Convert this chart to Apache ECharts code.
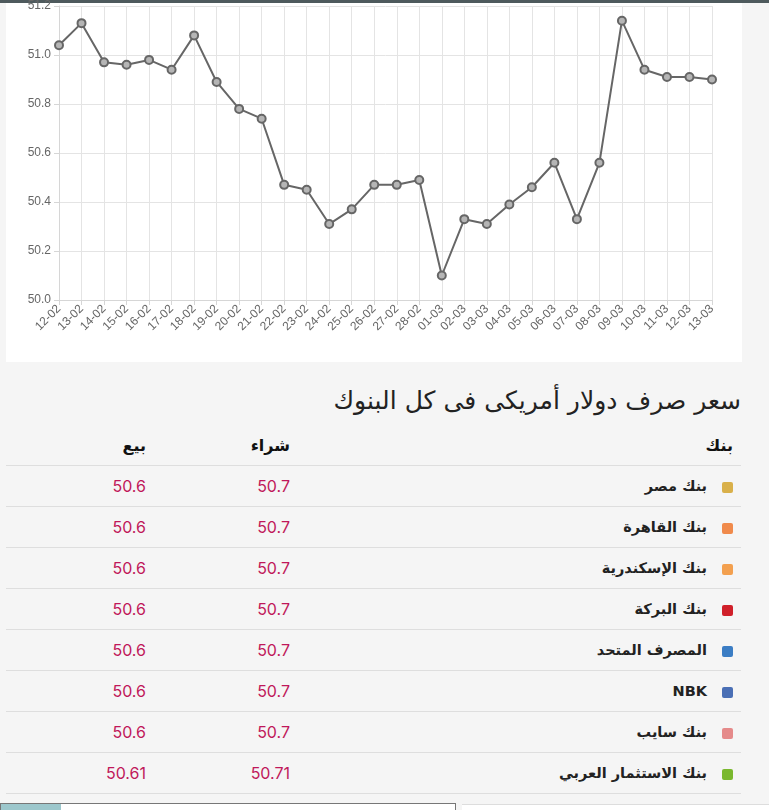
<!DOCTYPE html>
<html>
<head>
<meta charset="utf-8">
<script src="https://cdn.jsdelivr.net/npm/echarts@6/dist/echarts.min.js"></script>
<style>
html,body{margin:0;padding:0;background:#f5f5f5;width:769px;height:810px;overflow:hidden;font-family:"Inter","Noto Sans","DejaVu Sans",sans-serif;}
#topbar{position:absolute;left:0;top:0;width:769px;height:3px;background:#4e5a5d;}
#panel{position:absolute;left:6px;top:3px;width:736px;height:359px;background:#fff;}
#chart{position:absolute;left:6px;top:0;width:736px;height:362px;}
#title{position:absolute;right:28px;top:386px;font-size:25px;font-weight:500;color:#222;direction:rtl;font-family:"DejaVu Sans",sans-serif;letter-spacing:-0.5px;}
#tbl{position:absolute;left:6px;top:425px;width:735px;border-collapse:collapse;direction:rtl;}
#tbl td,#tbl th{height:40px;padding:0 8px 0 0;border-bottom:1px solid #dedede;text-align:right;}
#tbl th{font-weight:bold;font-size:16px;color:#111;font-family:"DejaVu Sans",sans-serif;}
#tbl td.name{font-size:14.5px;color:#222;font-weight:600;font-family:"DejaVu Sans",sans-serif;}
#tbl td.val{font-size:16px;color:#c0185a;font-family:"Inter",sans-serif;}
.ic{display:inline-block;width:11px;height:11px;margin-left:15px;vertical-align:middle;border-radius:2px;}
#bottom1{position:absolute;left:0;top:803px;width:456px;height:7px;border:1px solid #777;border-bottom:none;background:#fff;box-sizing:border-box;}
#bottom1 span{position:absolute;left:0;top:0;width:60px;height:7px;background:#9cc7cc;}
#bottom2{position:absolute;left:462px;top:804px;width:307px;height:6px;background:#fff;border-top:1px solid #ddd;}
</style>
</head>
<body>
<div id="topbar"></div>
<div id="panel"></div>
<div id="chart"></div>
<div id="title">سعر صرف دولار أمريكى فى كل البنوك</div>
<table id="tbl">
<thead><tr><th style="width:435px">بنك</th><th style="width:136px">شراء</th><th>بيع</th></tr></thead>
<tbody id="tb"></tbody>
</table>
<div id="bottom1"><span></span></div>
<div id="bottom2"></div>
<script>
var dates = ["12-02","13-02","14-02","15-02","16-02","17-02","18-02","19-02","20-02","21-02","22-02","23-02","24-02","25-02","26-02","27-02","28-02","01-03","02-03","03-03","04-03","05-03","06-03","07-03","08-03","09-03","10-03","11-03","12-03","13-03"];
var rates = [51.04,51.13,50.97,50.96,50.98,50.94,51.08,50.89,50.78,50.74,50.47,50.45,50.31,50.37,50.47,50.47,50.49,50.10,50.33,50.31,50.39,50.46,50.56,50.33,50.56,51.14,50.94,50.91,50.91,50.90];
var yTicks = [50.0,50.2,50.4,50.6,50.8,51.0,51.2];

var banks = ["بنك مصر","بنك القاهرة","بنك الإسكندرية","بنك البركة","المصرف المتحد","NBK","بنك سايب","بنك الاستثمار العربي"];
var buyRates = ["50.7","50.7","50.7","50.7","50.7","50.7","50.7","50.71"];
var sellRates = ["50.6","50.6","50.6","50.6","50.6","50.6","50.6","50.61"];
var iconColors = ["#d9b04a","#f08a4b","#f3a04f","#d0202a","#3b7dc4","#4a6fb5","#e58a8a","#7ab82e"];

var tb = document.getElementById('tb');
banks.forEach(function(b,i){
  var tr = document.createElement('tr');
  tr.innerHTML = '<td class="name"><span class="ic" style="background:'+iconColors[i]+'"></span>'+b+'</td><td class="val">'+buyRates[i]+'</td><td class="val">'+sellRates[i]+'</td>';
  tb.appendChild(tr);
});

var chart = echarts.init(document.getElementById('chart'));
chart.setOption({
  animation:false,
  grid:{left:53,right:30,top:5,bottom:62},
  xAxis:{
    type:'category',data:dates,boundaryGap:false,
    axisLine:{show:true,lineStyle:{color:'#d6d6d6'}},
    axisTick:{show:true,length:5,alignWithLabel:true,lineStyle:{color:'#d6d6d6'},interval:0},
    splitLine:{show:true,lineStyle:{color:'#e4e4e4'},interval:0},
    axisLabel:{rotate:45,color:'#666',fontSize:12,fontFamily:'Arial, "Liberation Sans", sans-serif',interval:0,margin:7}
  },
  yAxis:{
    type:'value',min:50.0,max:51.2,interval:0.2,
    axisLine:{show:true,lineStyle:{color:'#d6d6d6'}},
    axisTick:{show:true,length:5,lineStyle:{color:'#d6d6d6'}},
    splitLine:{show:true,lineStyle:{color:'#e4e4e4'}},
    axisLabel:{color:'#666',fontSize:12,fontFamily:'Arial, "Liberation Sans", sans-serif',margin:8,
      formatter:function(v){return v.toFixed(1);}}
  },
  series:[{
    type:'line',data:rates,
    lineStyle:{color:'#666',width:2},
    symbol:'circle',symbolSize:8,
    itemStyle:{color:'#b5b5b5',borderColor:'#666',borderWidth:2},
    showAllSymbol:true
  }]
});
</script>
</body>
</html>
